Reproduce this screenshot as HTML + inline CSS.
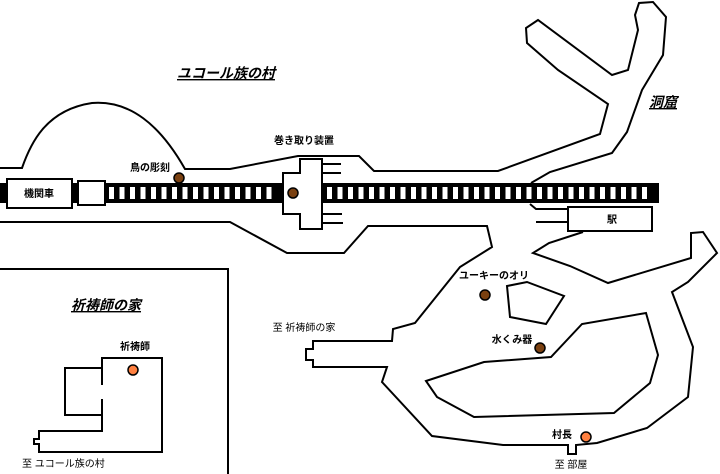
<!DOCTYPE html>
<html><head><meta charset="utf-8"><style>
html,body{margin:0;padding:0;background:#fff;width:720px;height:474px;overflow:hidden}
svg{display:block}
text{font-family:"Liberation Sans","Noto Sans CJK JP",sans-serif;fill:#000}
.w{fill:none;stroke:#000;stroke-width:2;stroke-linejoin:miter}
.lb{font-size:10px;font-weight:bold}
.tt{font-size:14px;font-weight:bold;font-style:italic;text-decoration:underline}
</style></head><body>
<svg width="720" height="474" viewBox="0 0 720 474">
<g>
<rect x="0" y="183" width="283" height="20" fill="#000"/>
<rect x="322" y="183" width="337" height="20" fill="#000"/>
<g id="ties" fill="#fff"></g>
</g>
<g>
<path class="w" d="M0,168 L22,168 C30,145 45,110 92,103 C130,100 160,125 185,169 L230,169 L298,156 L359,156 L374,171 L498,171 L600,134 L608,104 L558,70 L527,43 L526,28 L538,20 L612,75 L628,70 L638,30 L635,15 L639,3 L653,2 L666,17 L663,55 L642,90 L627,132 L612,153 L550,172 L531,183"/>
<path class="w" d="M0,222 L230,222 L287,253 L344,253 L368,226 L487,226 L492,247 L460,267 L415,323 L393,329 L392,341 L313,341 L313,349 L306,349 L306,360 L313,360 L313,367 L387,367 L382,382 L432,436 L503,445 L568,445 L568,454 L576,454 L576,445 L597,443 L647,428 L688,397 L693,347 L672,292 L688,282 L717,253 L703,232 L691,233 L691,258 L608,283 L570,266 L533,253 L549,243 L583,232"/>
<path class="w" d="M426,381 L484,362 L551,357 L582,324 L646,313 L658,355 L650,383 L614,413 L474,417 L437,397 Z"/>
<path class="w" d="M507,286 L527,282 L564,296 L546,324 L510,317 Z"/>
<path class="w" d="M568,207 L652,207 L652,231 L568,231 Z"/>
<path class="w" d="M530,204 L536,209 L568,209 M536,222 L568,222"/>
</g>
<g>
<path d="M283,173 L300,173 L300,159 L322,159 L322,229 L300,229 L300,214 L283,214 Z" fill="#fff" stroke="#000" stroke-width="2"/>
<path class="w" d="M322,164 L341,164 M322,173 L341,173 M322,214 L342,214 M322,223 L343,223"/>
</g>
<g>
<rect x="7" y="179" width="65" height="29" fill="#fff" stroke="#000" stroke-width="2"/>
<text x="39" y="197" class="lb" text-anchor="middle">機関車</text>
<rect x="78" y="181" width="27" height="24" fill="#fff" stroke="#000" stroke-width="2"/>
</g>
<g>
<path class="w" d="M0,269 L228,269 L228,474"/>
<path class="w" d="M102,385 L102,358 L162,358 L162,452 L39,452 L39,444 L34,444 L34,439 L39,439 L39,431 L102,431 L102,399"/>
<path class="w" d="M102,368 L65,368 L65,415 L102,415"/>
<text x="106" y="310" class="tt" text-anchor="middle">祈祷師の家</text>
<text x="135" y="350" class="lb" text-anchor="middle">祈祷師</text>
<circle cx="133" cy="370" r="5" fill="#ff8040" stroke="#000" stroke-width="1.5"/>
<text x="22" y="467" font-size="10">至 ユコール族の村</text>
</g>
<text x="226" y="78" class="tt" text-anchor="middle">ユコール族の村</text>
<text x="663" y="107" class="tt" text-anchor="middle">洞窟</text>
<text x="150" y="171" class="lb" text-anchor="middle">鳥の彫刻</text>
<circle cx="179" cy="178" r="5" fill="#7a4010" stroke="#000" stroke-width="1.5"/>
<text x="304" y="144" class="lb" text-anchor="middle">巻き取り装置</text>
<circle cx="293" cy="193" r="5" fill="#7a4010" stroke="#000" stroke-width="1.5"/>
<text x="612" y="223" class="lb" text-anchor="middle">駅</text>
<text x="494" y="279" class="lb" text-anchor="middle">ユーキーのオリ</text>
<circle cx="485" cy="295" r="5" fill="#7a4010" stroke="#000" stroke-width="1.5"/>
<text x="512" y="343" class="lb" text-anchor="middle">水くみ器</text>
<circle cx="540" cy="348" r="5" fill="#7a4010" stroke="#000" stroke-width="1.5"/>
<text x="562" y="438" class="lb" text-anchor="middle">村長</text>
<circle cx="586" cy="437" r="5" fill="#ff8040" stroke="#000" stroke-width="1.5"/>
<text x="571" y="468" font-size="10" text-anchor="middle">至 部屋</text>
<text x="304" y="331" font-size="10" text-anchor="middle">至 祈祷師の家</text>
</svg>
<script>
var g=document.getElementById('ties');
function ties(a,b){for(var x=a;x+5<=b;x+=10.5){var r=document.createElementNS('http://www.w3.org/2000/svg','rect');r.setAttribute('x',x);r.setAttribute('y',187);r.setAttribute('width',5);r.setAttribute('height',12);


g.appendChild(r);}}
ties(109,281);ties(327,657);
</script>
</body></html>
